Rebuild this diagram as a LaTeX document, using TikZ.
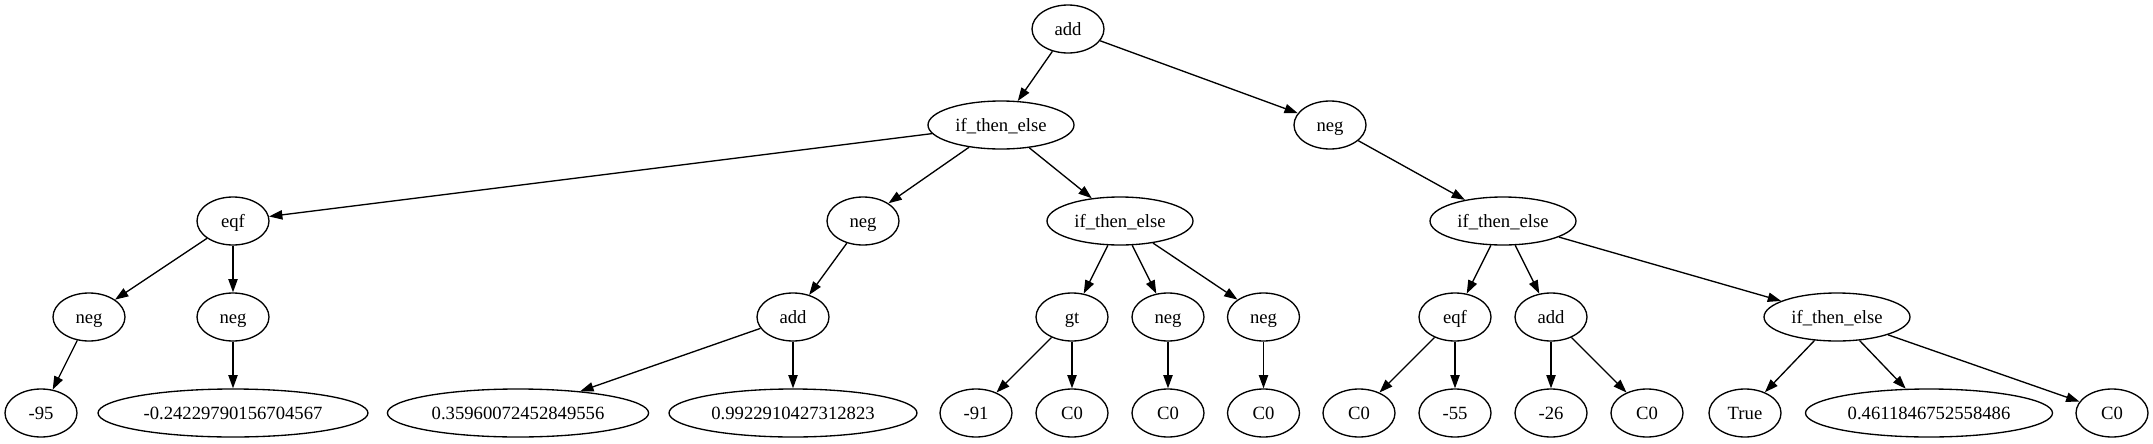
\documentclass[tikz,border=0pt]{standalone}
\usepackage{fontspec}
\setmainfont{Liberation Serif}
\usepackage{tikz}
\usetikzlibrary{arrows.meta,shapes.geometric}

\begin{document}
\begin{tikzpicture}[x=0.75pt,y=-0.75pt,
  tn/.style={draw,ellipse,line width=1pt,minimum width=54pt,minimum height=36pt,
    inner xsep=4.5pt,inner ysep=2pt,text height=9.8pt,text depth=0pt,
    font=\fontsize{14}{16}\selectfont},
  ed/.style={line width=1pt,-{Triangle[length=10pt,width=7pt]}}]
  \useasboundingbox (0,0) rectangle (2153,443);
  % Define nodes
  \node[tn] (add) at (1068,29) {add};
  \node[tn] (ite) at (1001,125) {if\_then\_else};
  \node[tn] (negr) at (1330,125) {neg};
  \node[tn] (eqf) at (233,221) {eqf};
  \node[tn] (nega) at (863,221) {neg};
  \node[tn] (itea) at (1120,221) {if\_then\_else};
  \node[tn] (iter) at (1503,221) {if\_then\_else};
  \node[tn] (negb) at (89,317) {neg};
  \node[tn] (negc) at (233,317) {neg};
  \node[tn] (adda) at (793,317) {add};
  \node[tn] (gt) at (1072,317) {gt};
  \node[tn] (negd) at (1168,317) {neg};
  \node[tn] (nege) at (1263.5,317) {neg};
  \node[tn] (eqfr) at (1455,317) {eqf};
  \node[tn] (addr) at (1551,317) {add};
  \node[tn] (iterr) at (1837,317) {if\_then\_else};
  \node[tn] (va) at (41,413) {-95};
  \node[tn] (vb) at (233,413) {-0.24229790156704567};
  \node[tn] (vc) at (518,413) {0.35960072452849556};
  \node[tn] (vd) at (793,413) {0.9922910427312823};
  \node[tn] (ve) at (976,413) {-91};
  \node[tn] (vf) at (1072,413) {C0};
  \node[tn] (vg) at (1168,413) {C0};
  \node[tn] (vh) at (1263.5,413) {C0};
  \node[tn] (vi) at (1359,413) {C0};
  \node[tn] (vj) at (1455,413) {-55};
  \node[tn] (vk) at (1551,413) {-26};
  \node[tn] (vl) at (1647,413) {C0};
  \node[tn] (vm) at (1745,413) {True};
  \node[tn] (vn) at (1929,413) {0.4611846752558486};
  \node[tn] (vo) at (2112,413) {C0};
  % Edges
  \draw[ed] (add) -- (ite);
  \draw[ed] (add) -- (negr);
  \draw[ed] (ite) -- (eqf);
  \draw[ed] (ite) -- (nega);
  \draw[ed] (ite) -- (itea);
  \draw[ed] (eqf) -- (negb);
  \draw[ed] (eqf) -- (negc);
  \draw[ed] (negb) -- (va);
  \draw[ed] (negc) -- (vb);
  \draw[ed] (nega) -- (adda);
  \draw[ed] (adda) -- (vc);
  \draw[ed] (adda) -- (vd);
  \draw[ed] (itea) -- (gt);
  \draw[ed] (itea) -- (negd);
  \draw[ed] (itea) -- (nege);
  \draw[ed] (gt) -- (ve);
  \draw[ed] (gt) -- (vf);
  \draw[ed] (negd) -- (vg);
  \draw[ed] (nege) -- (vh);
  \draw[ed] (negr) -- (iter);
  \draw[ed] (iter) -- (eqfr);
  \draw[ed] (iter) -- (addr);
  \draw[ed] (iter) -- (iterr);
  \draw[ed] (eqfr) -- (vi);
  \draw[ed] (eqfr) -- (vj);
  \draw[ed] (addr) -- (vk);
  \draw[ed] (addr) -- (vl);
  \draw[ed] (iterr) -- (vm);
  \draw[ed] (iterr) -- (vn);
  \draw[ed] (iterr) -- (vo);
\end{tikzpicture}
\end{document}
